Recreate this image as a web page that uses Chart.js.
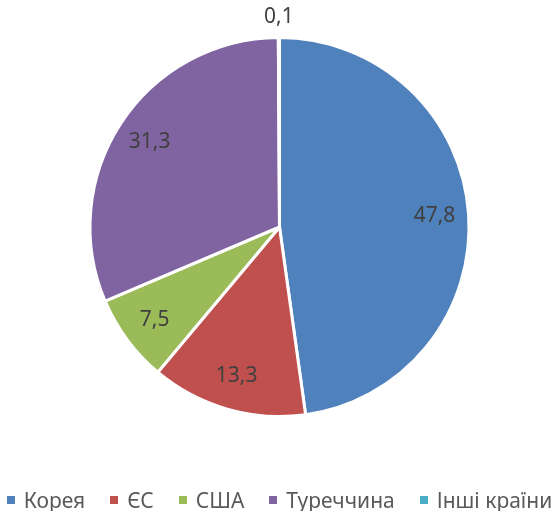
<!DOCTYPE html>
<html lang="uk">
<head>
<meta charset="utf-8">
<title>Pie</title>
<script src="https://cdn.jsdelivr.net/npm/chart.js@4.4.8/dist/chart.umd.min.js"></script>
<style>
  html, body { margin: 0; padding: 0; background: #fff; }
  #wrap { width: 559px; height: 511px; position: relative; overflow: hidden; }
  #legend {
    position: absolute; left: 0; right: 0; top: 485px;
    display: flex; justify-content: center; gap: 25px;
    font: 21px "Noto Sans", "Open Sans", sans-serif; color: #595959;
    line-height: 30px; white-space: nowrap;
  }
  #legend span.item { display: flex; align-items: center; }
  #legend i { display: inline-block; width: 8px; height: 8px; margin-right: 9px; }
</style>
</head>
<body>
<div id="wrap">
  <canvas id="pie"></canvas>
  <div id="legend"></div>
</div>
<script>
const labels = ['Корея', 'ЄС', 'США', 'Туреччина', 'Інші країни'];
const values = [47.8, 13.3, 7.5, 31.3, 0.1];
const colors = ['#4F81BD', '#C0504D', '#9BBB59', '#8064A2', '#4BACC6'];

const fontFamily = '"Noto Sans", "Open Sans", sans-serif';

// подписи значений на секторах
const valueLabels = {
  id: 'valueLabels',
  afterDatasetsDraw(chart) {
    const ctx = chart.ctx;
    const meta = chart.getDatasetMeta(0);
    ctx.save();
    ctx.font = '21px ' + fontFamily;
    ctx.fillStyle = '#404040';
    ctx.textAlign = 'center';
    ctx.textBaseline = 'middle';
    meta.data.forEach((arc, i) => {
      const {x, y, startAngle, endAngle, outerRadius} = arc.getProps(['x', 'y', 'startAngle', 'endAngle', 'outerRadius']);
      const mid = (startAngle + endAngle) / 2;
      const small = (endAngle - startAngle) < 0.1;
      const r = small ? outerRadius + 20 : outerRadius * 0.82;
      const text = String(values[i]).replace('.', ',');
      ctx.fillText(text, x + Math.cos(mid) * r, y + Math.sin(mid) * r);
    });
    ctx.restore();
  }
};

new Chart(document.getElementById('pie'), {
  type: 'pie',
  data: {
    labels: labels,
    datasets: [{
      data: values,
      backgroundColor: colors,
      borderColor: '#ffffff',
      borderWidth: 3,
      hoverOffset: 0
    }]
  },
  options: {
    responsive: true,
    maintainAspectRatio: false,
    animation: false,
    events: [],
    layout: { padding: { top: 36, bottom: 93 } },
    plugins: {
      tooltip: { enabled: false },
      legend: { display: false }
    }
  },
  plugins: [valueLabels]
});

// легенда
const legendEl = document.getElementById('legend');
labels.forEach((name, i) => {
  const item = document.createElement('span');
  item.className = 'item';
  item.innerHTML = `<i style="background:${colors[i]}"></i>${name}`;
  legendEl.appendChild(item);
});
</script>
</body>
</html>
